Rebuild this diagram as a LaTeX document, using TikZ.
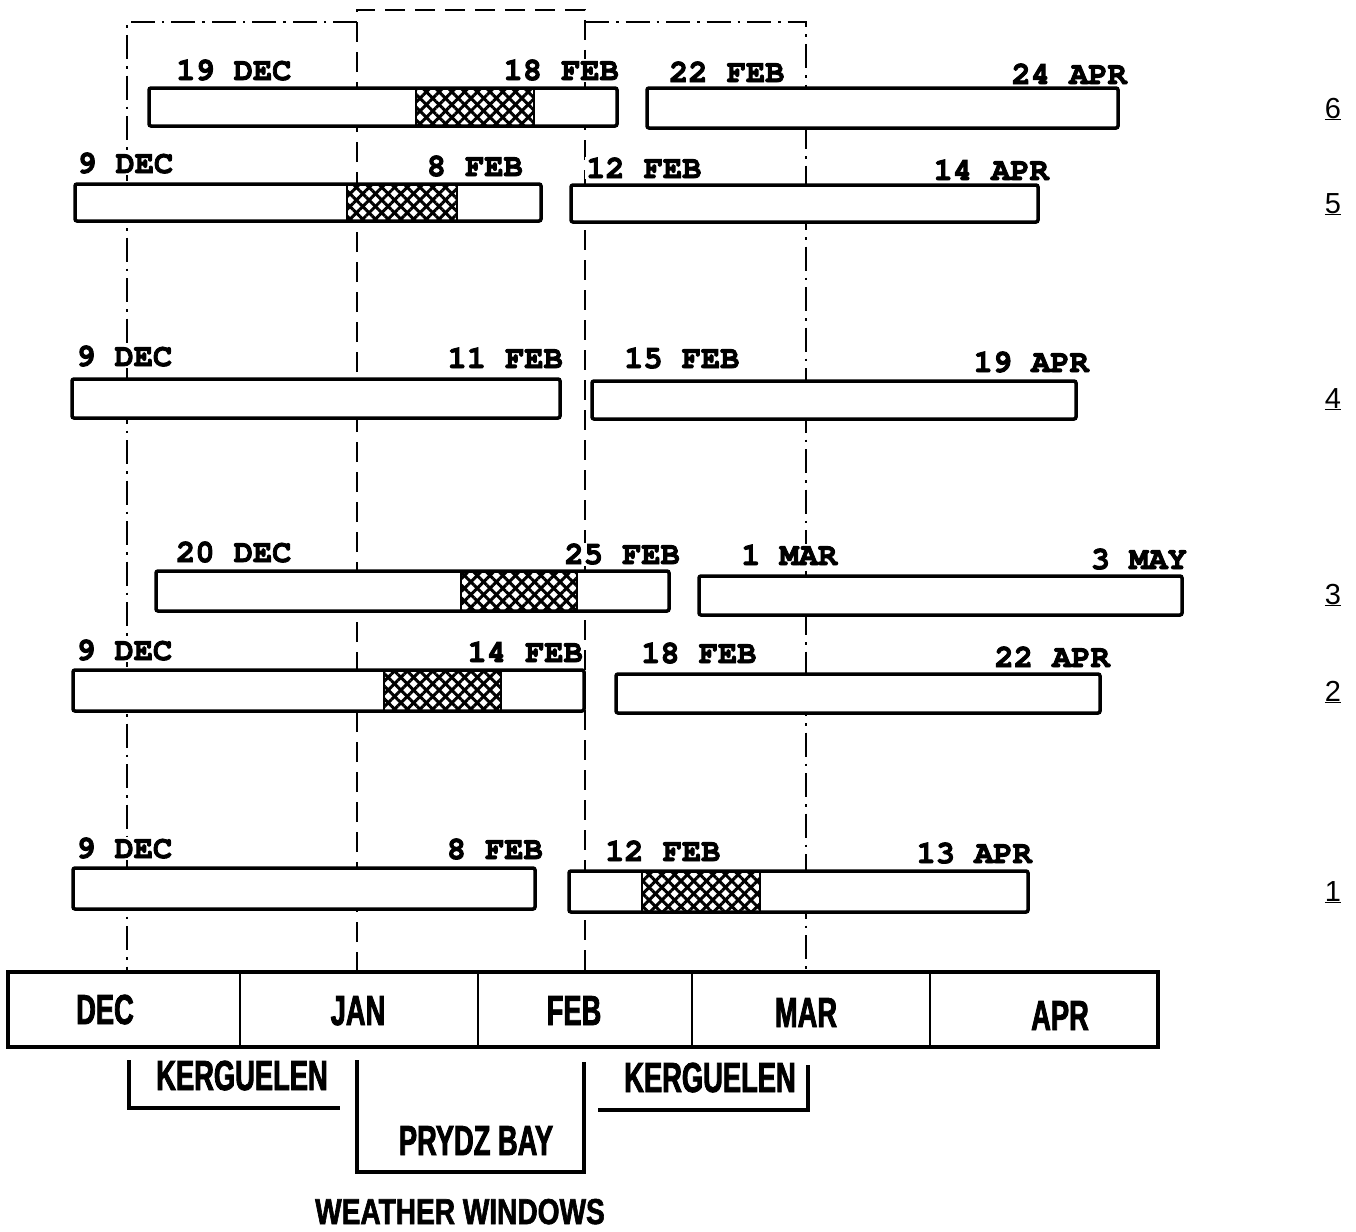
\documentclass[tikz,border=0pt]{standalone}
\usepackage{fontspec}
\setmainfont{Liberation Sans}
\newcommand\courb{\fontencoding{T1}\fontfamily{pcr}\fontseries{b}\selectfont}
\newfontfamily\condfont{Liberation Sans}[FakeStretch=0.65]
\newfontfamily\wwfont{Liberation Sans}[FakeStretch=0.78]
\newcommand\heavy[2]{\special{pdf:literal direct 2 Tr #1 w}#2\special{pdf:literal direct 0 Tr}}
\usetikzlibrary{patterns.meta}
\newcommand\plainbar[4]{\draw[barbox] (#1,#2) rectangle (#3,#4);}
\newcommand\hatchbar[6]{%
  \fill[white] (#1,#2) rectangle (#3,#4);
  \fill[hatchA] (#5,#2) rectangle (#6,#4);
  \fill[hatchB] (#5,#2) rectangle (#6,#4);
  \draw[line width=1.5pt] (#5,#2) -- (#5,#4) (#6,#2) -- (#6,#4);
  \draw[barbox,fill=none] (#1,#2) rectangle (#3,#4);}
\newcommand\dlab[4]{\node[dl, anchor=#2] (#1) at (#3) {\heavy{0.9}{#4}};}
\newcommand\mlab[3]{\node[month, anchor=base] (#1) at (#2) {\heavy{0.8}{#3}};}
\begin{document}
\begin{tikzpicture}[x=1pt,y=-1pt,
  barbox/.style={draw, line width=3.5pt, fill=white, rounded corners=2pt},
  hatchA/.style={pattern={Lines[angle=45,distance=9pt,line width=3pt]}},
  hatchB/.style={pattern={Lines[angle=-45,distance=9pt,line width=3pt]}},
  dl/.style={font=\courb\fontsize{32}{32}\selectfont, inner sep=1pt, fill=white},
  month/.style={font=\condfont\bfseries\fontsize{42}{42}\selectfont, inner sep=0pt},
  wwstyle/.style={font=\wwfont\bfseries\fontsize{36}{36}\selectfont, inner sep=0pt},
  kdash/.style={line width=2.2pt, dash pattern=on 24pt off 7pt on 2.5pt off 7pt},
  pdash/.style={line width=2.2pt, dash pattern=on 20pt off 10pt},
  brk/.style={line width=3.2pt},
  rownum/.style={font=\fontsize{29}{29}\selectfont, inner sep=0pt, anchor=base}]
\useasboundingbox (0,0) rectangle (1356,1231);
\fill[white] (0,0) rectangle (1356,1231);

% window guide lines
\coordinate (kLt) at (127,22);  \coordinate (kLb) at (127,972);
\coordinate (kLe) at (357,22);
\coordinate (pLt) at (357,10);  \coordinate (pLb) at (357,972);
\coordinate (pRt) at (585,10);  \coordinate (pRb) at (585,972);
\coordinate (kRs) at (585,22);
\coordinate (kRt) at (806,22);  \coordinate (kRb) at (806,972);
\draw[kdash] (kLe) -- (kLt) -- (kLb);
\draw[pdash] (pLb) -- (pLt) -- (pRt) -- (pRb);
\draw[kdash] (kRs) -- (kRt) -- (kRb);

% row 6
\hatchbar{149}{88}{617}{126}{416}{534}
\plainbar{647}{88}{1118}{128}
\dlab{r6a}{base west}{175,80}{19 DEC}
\dlab{r6b}{base east}{620,80}{18 FEB}
\dlab{r6c}{base west}{668,82}{22 FEB}
\dlab{r6d}{base east}{1128,84}{24 APR}
\node[rownum] (n6) at (1333,118) {\underline{6}};

% row 5
\hatchbar{75}{184}{541}{221}{347}{457}
\plainbar{571}{185}{1038}{222}
\dlab{r5a}{base west}{76,173}{9 DEC}
\dlab{r5b}{base east}{524,176}{8 FEB}
\dlab{r5c}{base west}{585,178}{12 FEB}
\dlab{r5d}{base east}{1050,180}{14 APR}
\node[rownum] (n5) at (1333,213) {\underline{5}};

% row 4
\plainbar{72}{379}{560}{418}
\plainbar{592}{381}{1076}{419}
\dlab{r4a}{base west}{75,366}{9 DEC}
\dlab{r4b}{base east}{564,368}{11 FEB}
\dlab{r4c}{base west}{623,368}{15 FEB}
\dlab{r4d}{base east}{1090,372}{19 APR}
\node[rownum] (n4) at (1333,408) {\underline{4}};

% row 3
\hatchbar{156}{571}{669}{611}{461}{577}
\plainbar{699}{576}{1182}{615}
\dlab{r3a}{base west}{175,562}{20 DEC}
\dlab{r3b}{base east}{681,564}{25 FEB}
\dlab{r3c}{base west}{740,565}{1 MAR}
\dlab{r3d}{base east}{1188,569}{3 MAY}
\node[rownum] (n3) at (1333,604) {\underline{3}};

% row 2
\hatchbar{73}{670}{584}{711}{384}{501}
\plainbar{616}{674}{1100}{713}
\dlab{r2a}{base west}{75,660}{9 DEC}
\dlab{r2b}{base east}{584,662}{14 FEB}
\dlab{r2c}{base west}{640,663}{18 FEB}
\dlab{r2d}{base east}{1111,667}{22 APR}
\node[rownum] (n2) at (1333,701) {\underline{2}};

% row 1
\plainbar{73}{868}{535}{909}
\hatchbar{569}{871}{1028}{912}{642}{760}
\dlab{r1a}{base west}{75,858}{9 DEC}
\dlab{r1b}{base east}{544,859}{8 FEB}
\dlab{r1c}{base west}{604,861}{12 FEB}
\dlab{r1d}{base east}{1033,863}{13 APR}
\node[rownum] (n1) at (1333,901) {\underline{1}};

% month bar
\draw[line width=3.5pt] (8,972) rectangle (1158,1047);
\foreach \xx in {240,478,692,930} \draw[line width=2pt] (\xx,972) -- (\xx,1047);
\mlab{mdec}{105,1024}{DEC}
\mlab{mjan}{358,1025}{JAN}
\mlab{mfeb}{574,1025}{FEB}
\mlab{mmar}{806,1027}{MAR}
\mlab{mapr}{1060,1030}{APR}

% weather window brackets
\coordinate (b1a) at (129,1060); \coordinate (b1b) at (129,1108); \coordinate (b1c) at (340,1108);
\draw[brk] (b1a) -- (b1b) -- (b1c);
\coordinate (b2a) at (357,1060); \coordinate (b2b) at (357,1172);
\coordinate (b2c) at (584,1172); \coordinate (b2d) at (584,1062);
\draw[brk] (b2a) -- (b2b) -- (b2c) -- (b2d);
\coordinate (b3a) at (598,1110); \coordinate (b3b) at (808,1110); \coordinate (b3c) at (808,1065);
\draw[brk] (b3a) -- (b3b) -- (b3c);
\mlab{kerg1}{242,1090}{KERGUELEN}
\mlab{prydz}{476,1155}{PRYDZ BAY}
\mlab{kerg2}{710,1092}{KERGUELEN}
\node[wwstyle, anchor=base] (ww) at (460,1224) {\heavy{0.6}{WEATHER WINDOWS}};
\end{tikzpicture}
\end{document}
